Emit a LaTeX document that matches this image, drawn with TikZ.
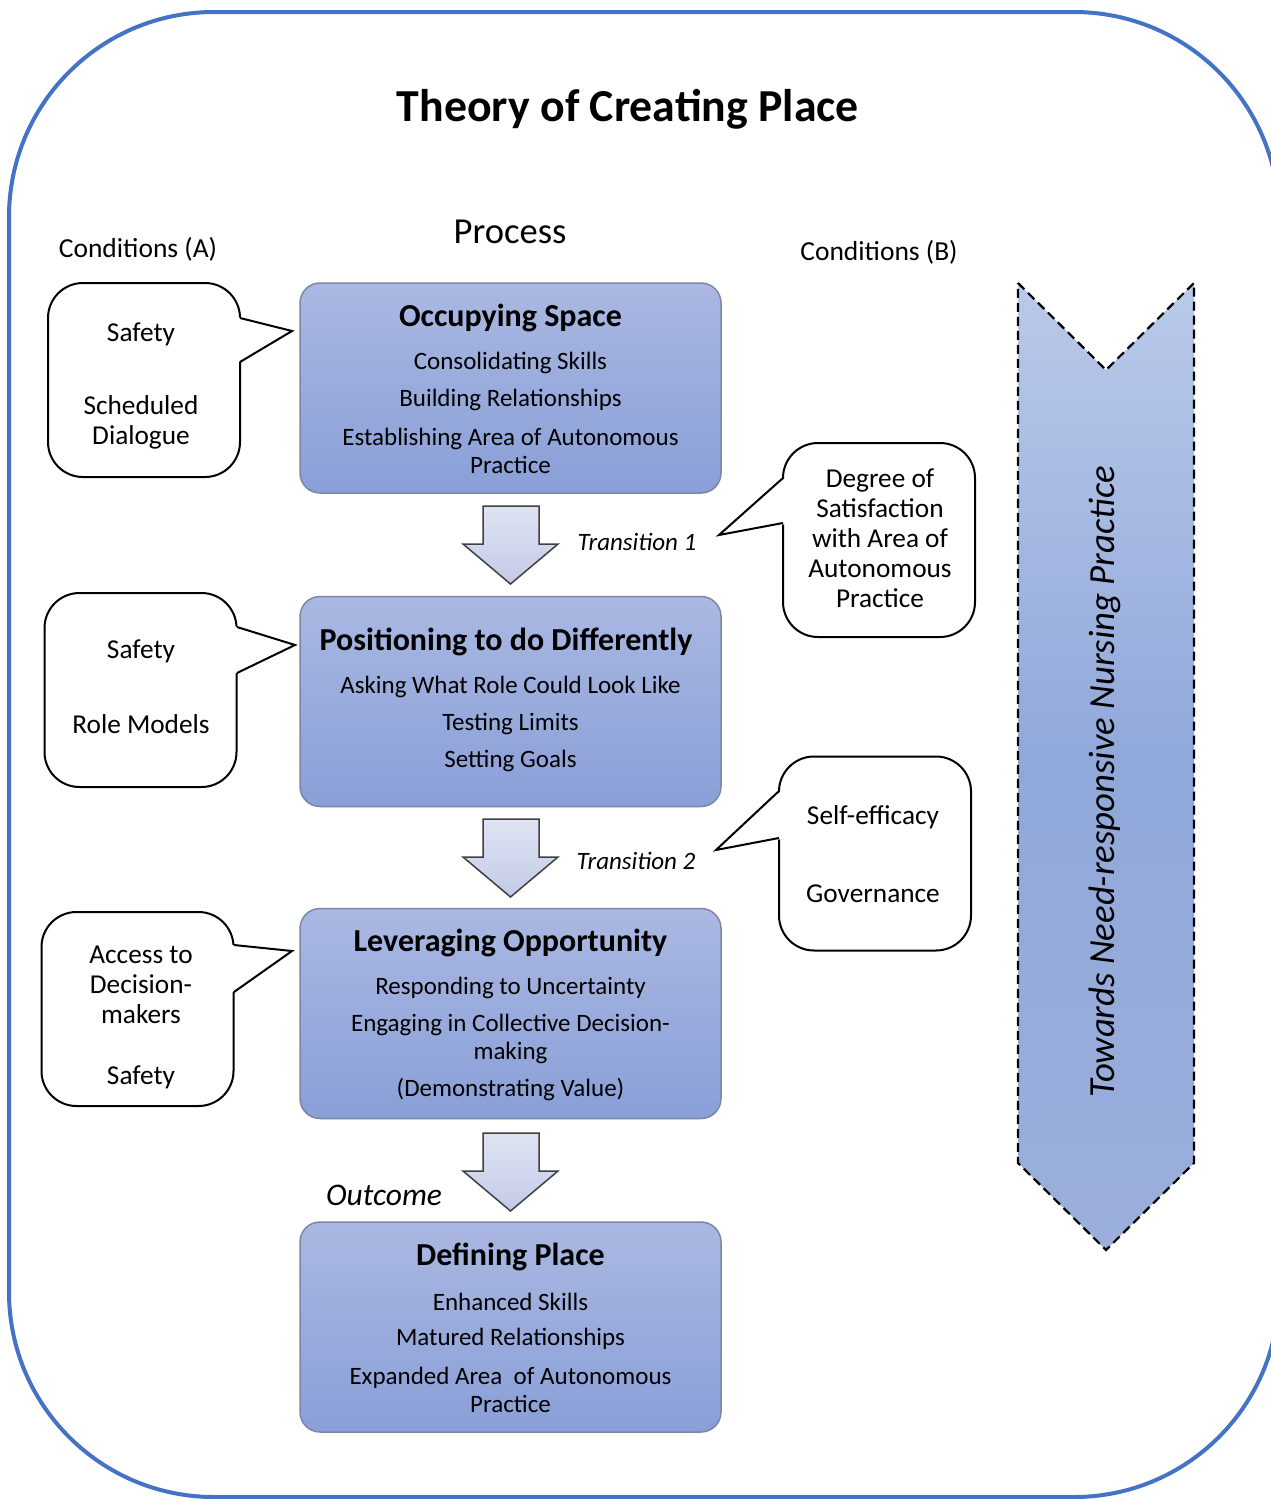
\documentclass[tikz,border=0pt]{standalone}
\usepackage{fontspec}
\setmainfont{Carlito}
\usetikzlibrary{calc}
\definecolor{framecol}{HTML}{4472C4}
\definecolor{boxtop}{HTML}{AAB8E2}
\definecolor{boxbot}{HTML}{899FD7}
\definecolor{boxline}{HTML}{7D86A6}
\definecolor{arrtop}{HTML}{DFE4F3}
\definecolor{arrbot}{HTML}{C3CAE7}
\definecolor{chevtop}{HTML}{B9C9E9}
\definecolor{chevmid}{HTML}{90A8DA}
\definecolor{chevbot}{HTML}{9CAFDB}
\tikzset{
  txt/.style={inner sep=0pt, yshift=-2.5pt},
  mainbox/.style={draw=boxline, line width=1.5pt, rounded corners=20pt, top color=boxtop, bottom color=boxbot, minimum width=421pt, minimum height=210pt, inner sep=0pt},
  boxtitle/.style={txt, font=\fontsize{32}{36}\selectfont\bfseries},
  boxitem/.style={txt, font=\fontsize{25}{28}\selectfont, align=center},
  callout/.style={draw=black, line width=2pt, fill=white, rounded corners=35pt, minimum width=192pt, minimum height=194pt, inner sep=0pt},
  callline/.style={draw=black, line width=2pt, line join=miter},
  calltext/.style={txt, font=\fontsize{27.3}{30}\selectfont, align=center},
  blockarrow/.style={draw=black!75, line width=1.5pt, top color=arrtop, bottom color=arrbot, line join=miter},
  headtext/.style={txt, font=\fontsize{27.5}{30}\selectfont},
  transtext/.style={txt, font=\fontsize{25}{28}\selectfont\itshape}
}
\begin{document}
\begin{tikzpicture}[x=1pt,y=-1pt]
\useasboundingbox (0,0) rectangle (1271,1499);
\clip (0,0) rectangle (1271,1499);
\fill[white] (0,0) rectangle (1271,1499);
% outer frame
\draw[framecol, line width=4pt, rounded corners=205pt] (9,12) rectangle (1279,1497);

% headings
\node[txt, font=\fontsize{45.8}{50}\selectfont\bfseries] (title) at (628,107) {Theory of Creating Place};
\node[txt, font=\fontsize{36.6}{40}\selectfont] (process) at (510,229) {Process};
\node[headtext] (condA) at (138,247) {Conditions (A)};
\node[headtext] (condB) at (879,250) {Conditions (B)};

% big chevron arrow
\path[shade, top color=chevtop, bottom color=chevbot, middle color=chevmid]
  (1018,283) -- (1106,370) -- (1194,283) -- (1194,1163) -- (1106,1250) -- (1018,1163) -- cycle;
\draw[black, line width=2.2pt, dash pattern=on 9pt off 5pt, line join=miter]
  (1018,283) -- (1106,370) -- (1194,283) -- (1194,1163) -- (1106,1250) -- (1018,1163) -- cycle;
\node[inner sep=0pt, xshift=2pt, font=\fontsize{36.8}{40}\selectfont\itshape, rotate=90] (towards) at (1103,782) {Towards Need-responsive Nursing Practice};

% main boxes
\node[mainbox] (b1) at (510.5,388) {};
\node[boxtitle] (b1t) at (510.5,315) {Occupying Space};
\node[boxitem] (b1a) at (510.5,360) {Consolidating Skills};
\node[boxitem] (b1b) at (510.5,397) {Building Relationships};
\node[boxitem] (b1c) at (510.5,448) {Establishing Area of Autonomous\\Practice};

\node[mainbox] (b2) at (510.5,701.5) {};
\node[boxtitle] (b2t) at (506,639) {Positioning to do Differently};
\node[boxitem] (b2a) at (510.5,684) {Asking What Role Could Look Like};
\node[boxitem] (b2b) at (510.5,721) {Testing Limits};
\node[boxitem] (b2c) at (510.5,758) {Setting Goals};

\node[mainbox] (b3) at (510.5,1013.5) {};
\node[boxtitle] (b3t) at (510.5,940) {Leveraging Opportunity};
\node[boxitem] (b3a) at (510.5,985) {Responding to Uncertainty};
\node[boxitem] (b3b) at (510.5,1036) {Engaging in Collective Decision-\\making};
\node[boxitem] (b3c) at (510.5,1087) {(Demonstrating Value)};

\node[mainbox] (b4) at (510.5,1327) {};
\node[boxtitle] (b4t) at (510.5,1254) {Defining Place};
\node[boxitem] (b4a) at (510.5,1299) {Enhanced Skills};
\node[boxitem] (b4b) at (510.5,1336) {Matured Relationships};
\node[boxitem] (b4c) at (510.5,1387) {Expanded Area\ \ of Autonomous\\Practice};

% block arrows between boxes
\foreach \t/\nm in {506/a1, 819/a2, 1133/a3}{
  \draw[blockarrow] (483,\t) -- (539,\t) -- (539,\t+38) -- (558,\t+38) -- (510.5,\t+78) -- (463,\t+38) -- (483,\t+38) -- cycle;
}
\node[transtext] (tr1) at (637,539) {Transition 1};
\node[transtext] (tr2) at (636,858) {Transition 2};
\node[txt, font=\fontsize{31.5}{34}\selectfont\itshape] (outc) at (384,1193) {Outcome};

% left callouts
\node[callout] (c1) at (144,380) {};
\coordinate (c1tip) at (292,331);
\coordinate (c1a) at (240,318);
\coordinate (c1b) at (240,362);
\fill[white] (237,317) -- (c1tip) -- (237,363) -- cycle;
\draw[callline] (c1a) -- (c1tip) -- (c1b);
\node[calltext] (c1x) at (141,332) {Safety};
\node[calltext] (c1y) at (141,420) {Scheduled\\Dialogue};

\node[callout] (c2) at (140.5,690) {};
\coordinate (c2tip) at (295,645);
\coordinate (c2a) at (237,627);
\coordinate (c2b) at (237,673);
\fill[white] (234,626) -- (c2tip) -- (234,674) -- cycle;
\draw[callline] (c2a) -- (c2tip) -- (c2b);
\node[calltext] (c2x) at (141,649) {Safety};
\node[calltext] (c2y) at (141,722) {Role Models};

\node[callout] (c3) at (137.5,1009) {};
\coordinate (c3tip) at (292,951);
\coordinate (c3a) at (234,945);
\coordinate (c3b) at (234,992);
\fill[white] (231,945) -- (c3tip) -- (231,993) -- cycle;
\draw[callline] (c3a) -- (c3tip) -- (c3b);
\node[calltext] (c3x) at (141,982) {Access to\\Decision-\\makers};
\node[calltext] (c3y) at (141,1075) {Safety};

% right callouts
\node[callout] (c4) at (879,540) {};
\coordinate (c4tip) at (719,535);
\coordinate (c4a) at (783,478);
\coordinate (c4b) at (783,523);
\fill[white] (786,477) -- (c4tip) -- (786,524) -- cycle;
\draw[callline] (c4a) -- (c4tip) -- (c4b);
\node[calltext] (c4x) at (880,536) {Degree of\\Satisfaction\\with Area of\\Autonomous\\Practice};

\node[callout] (c5) at (875,853.5) {};
\coordinate (c5tip) at (716,850);
\coordinate (c5a) at (779,791);
\coordinate (c5b) at (779,838);
\fill[white] (782,790) -- (c5tip) -- (782,839) -- cycle;
\draw[callline] (c5a) -- (c5tip) -- (c5b);
\node[calltext] (c5x) at (873,815) {Self-efficacy};
\node[calltext] (c5y) at (873,891) {Governance};
\end{tikzpicture}
\end{document}
